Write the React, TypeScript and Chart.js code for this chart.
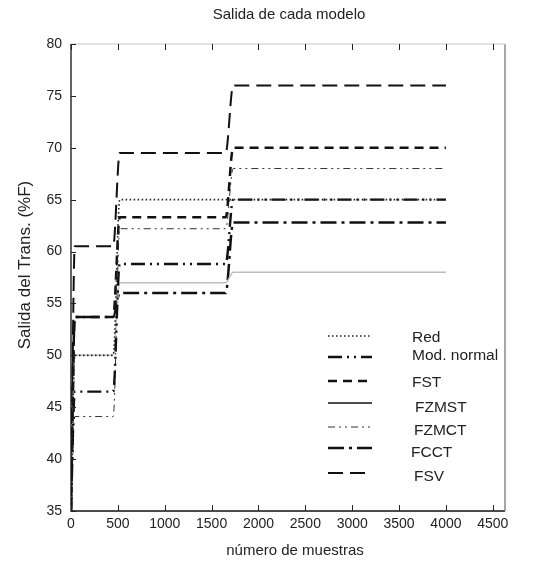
import React, { useEffect, useRef } from "react";
import Chart from "chart.js/auto";

// ---- data ----
const titleText = "Salida de cada modelo";
const xTitle = "número de muestras";
const yTitle = "Salida del Trans. (%F)";
const sampleX = [0, 40, 450, 520, 1650, 1730, 4000];
const xTickValues = [0, 500, 1000, 1500, 2000, 2500, 3000, 3500, 4000, 4500];
const seriesNames = ["Red", "Mod. normal", "FST", "FZMST", "FZMCT", "FCCT", "FSV"];
const red = [35, 50, 50, 65, 65, 65, 65];
const modNormal = [35, 46.5, 46.5, 58.8, 58.8, 65, 65];
const fst = [35, 53.7, 53.7, 63.3, 63.3, 70, 70];
const fzmst = [35, 50, 50, 57, 57, 58, 58];
const fzmct = [35, 44.1, 44.1, 62.2, 62.2, 68, 68];
const fcct = [35, 53.7, 53.7, 56, 56, 62.8, 62.8];
const fsv = [35, 60.5, 60.5, 69.5, 69.5, 76, 76];

const seriesValues = [red, modNormal, fst, fzmst, fzmct, fcct, fsv];
const styles = [
  { color: "#222", width: 1.6, dash: [1.5, 2.5] },
  { color: "#111", width: 2.4, dash: [14, 5, 2, 5, 2, 5] },
  { color: "#111", width: 2.5, dash: [9, 6] },
  { color: "#bdbdbd", width: 1.5, dash: [] as number[] },
  { color: "#333", width: 1, dash: [7, 4, 2, 4, 2, 4] },
  { color: "#111", width: 2.5, dash: [16, 5, 3, 5] },
  { color: "#111", width: 2, dash: [15, 7] },
];
const legendLegendX = [412, 412, 412, 415, 414, 411, 414];
const legendRowsY = [338, 356, 383, 408, 431, 453, 477];
const legendSampleY = [336, 357, 381, 403, 427, 448, 473];
const legendSampleColor = ["#222", "#111", "#111", "#111", "#333", "#111", "#111"];

const FONT = "'Liberation Sans', Arial, sans-serif";

const decorPlugin = {
  id: "decor",
  afterDraw(chart: any) {
    const ctx = chart.ctx;
    const { left, right, top, bottom } = chart.chartArea;
    const xs = chart.scales.x;
    const ys = chart.scales.y;
    ctx.save();
    // box
    ctx.lineWidth = 1.3;
    ctx.strokeStyle = "#111";
    ctx.beginPath();
    ctx.moveTo(left, top);
    ctx.lineTo(left, bottom);
    ctx.lineTo(right, bottom);
    ctx.stroke();
    ctx.strokeStyle = "#777";
    ctx.beginPath();
    ctx.moveTo(right, bottom);
    ctx.lineTo(right, top);
    ctx.stroke();
    ctx.strokeStyle = "#d8d8d8";
    ctx.beginPath();
    ctx.moveTo(left, top);
    ctx.lineTo(right, top);
    ctx.stroke();
    // ticks inward
    ctx.strokeStyle = "#222";
    ctx.lineWidth = 1;
    xTickValues.forEach((v) => {
      const px = Math.round(xs.getPixelForValue(v)) + 0.5;
      ctx.beginPath();
      ctx.moveTo(px, bottom);
      ctx.lineTo(px, bottom - 6);
      ctx.moveTo(px, top);
      ctx.lineTo(px, top + 6);
      ctx.stroke();
    });
    for (let v = 35; v <= 80; v += 5) {
      const py = Math.round(ys.getPixelForValue(v)) + 0.5;
      ctx.beginPath();
      ctx.moveTo(left, py);
      ctx.lineTo(left + 5, py);
      ctx.stroke();
    }
    // titles
    ctx.fillStyle = "#222";
    ctx.textAlign = "center";
    ctx.textBaseline = "middle";
    ctx.font = `15px ${FONT}`;
    ctx.fillText(titleText, 289, 15);
    ctx.fillText(xTitle, 295, 551);
    ctx.save();
    ctx.translate(25, 265);
    ctx.rotate(-Math.PI / 2);
    ctx.font = `17px ${FONT}`;
    ctx.fillText(yTitle, 0, 0);
    ctx.restore();
    // legend
    ctx.textAlign = "left";
    ctx.font = `15.5px ${FONT}`;
    seriesNames.forEach((name, i) => {
      const st = styles[i];
      ctx.save();
      ctx.strokeStyle = legendSampleColor[i];
      ctx.lineWidth = Math.max(st.width, 1.2);
      ctx.setLineDash(st.dash);
      ctx.beginPath();
      ctx.moveTo(328, legendSampleY[i]);
      ctx.lineTo(372, legendSampleY[i]);
      ctx.stroke();
      ctx.restore();
      ctx.fillStyle = "#222";
      ctx.fillText(name, legendLegendX[i], legendRowsY[i]);
    });
    ctx.restore();
  },
};

export default function App() {
  const ref = useRef<HTMLCanvasElement | null>(null);
  useEffect(() => {
    if (!ref.current) return;
    const datasets = seriesNames.map((name, i) => ({
      label: name,
      data: sampleX.map((x, j) => ({ x, y: seriesValues[i][j] })),
      borderColor: styles[i].color,
      borderWidth: styles[i].width,
      borderDash: styles[i].dash,
      pointRadius: 0,
      fill: false,
      cubicInterpolationMode: "monotone" as const,
    }));
    const chart = new Chart(ref.current, {
      type: "line",
      data: { datasets },
      options: {
        animation: false,
        responsive: false,
        layout: { padding: { left: 21, right: 34, top: 44, bottom: 26 } },
        plugins: { legend: { display: false }, title: { display: false }, tooltip: { enabled: false } },
        scales: {
          x: {
            type: "linear",
            min: 0,
            max: 4630,
            grid: { display: false, drawTicks: false },
            border: { display: false },
            ticks: {
              font: { family: FONT, size: 14 },
              color: "#222",
              padding: 5,
              maxRotation: 0,
              callback: (v: any) => String(v),
            },
            afterBuildTicks: (scale: any) => {
              scale.ticks = xTickValues.map((v) => ({ value: v }));
            },
            afterFit: (scale: any) => {
              scale.height = 30;
            },
          },
          y: {
            min: 35,
            max: 80,
            grid: { display: false, drawTicks: false },
            border: { display: false },
            ticks: {
              stepSize: 5,
              font: { family: FONT, size: 14 },
              color: "#222",
              padding: 9,
              callback: (v: any) => String(v),
            },
            afterFit: (scale: any) => {
              scale.width = 50;
            },
          },
        },
      },
      plugins: [decorPlugin],
    });
    return () => chart.destroy();
  }, []);
  return (
    <div style={{ position: "absolute", left: 0, top: 0, width: 539, height: 567, background: "#fff" }}>
      <canvas ref={ref} width={539} height={567} style={{ display: "block" }} />
    </div>
  );
}
